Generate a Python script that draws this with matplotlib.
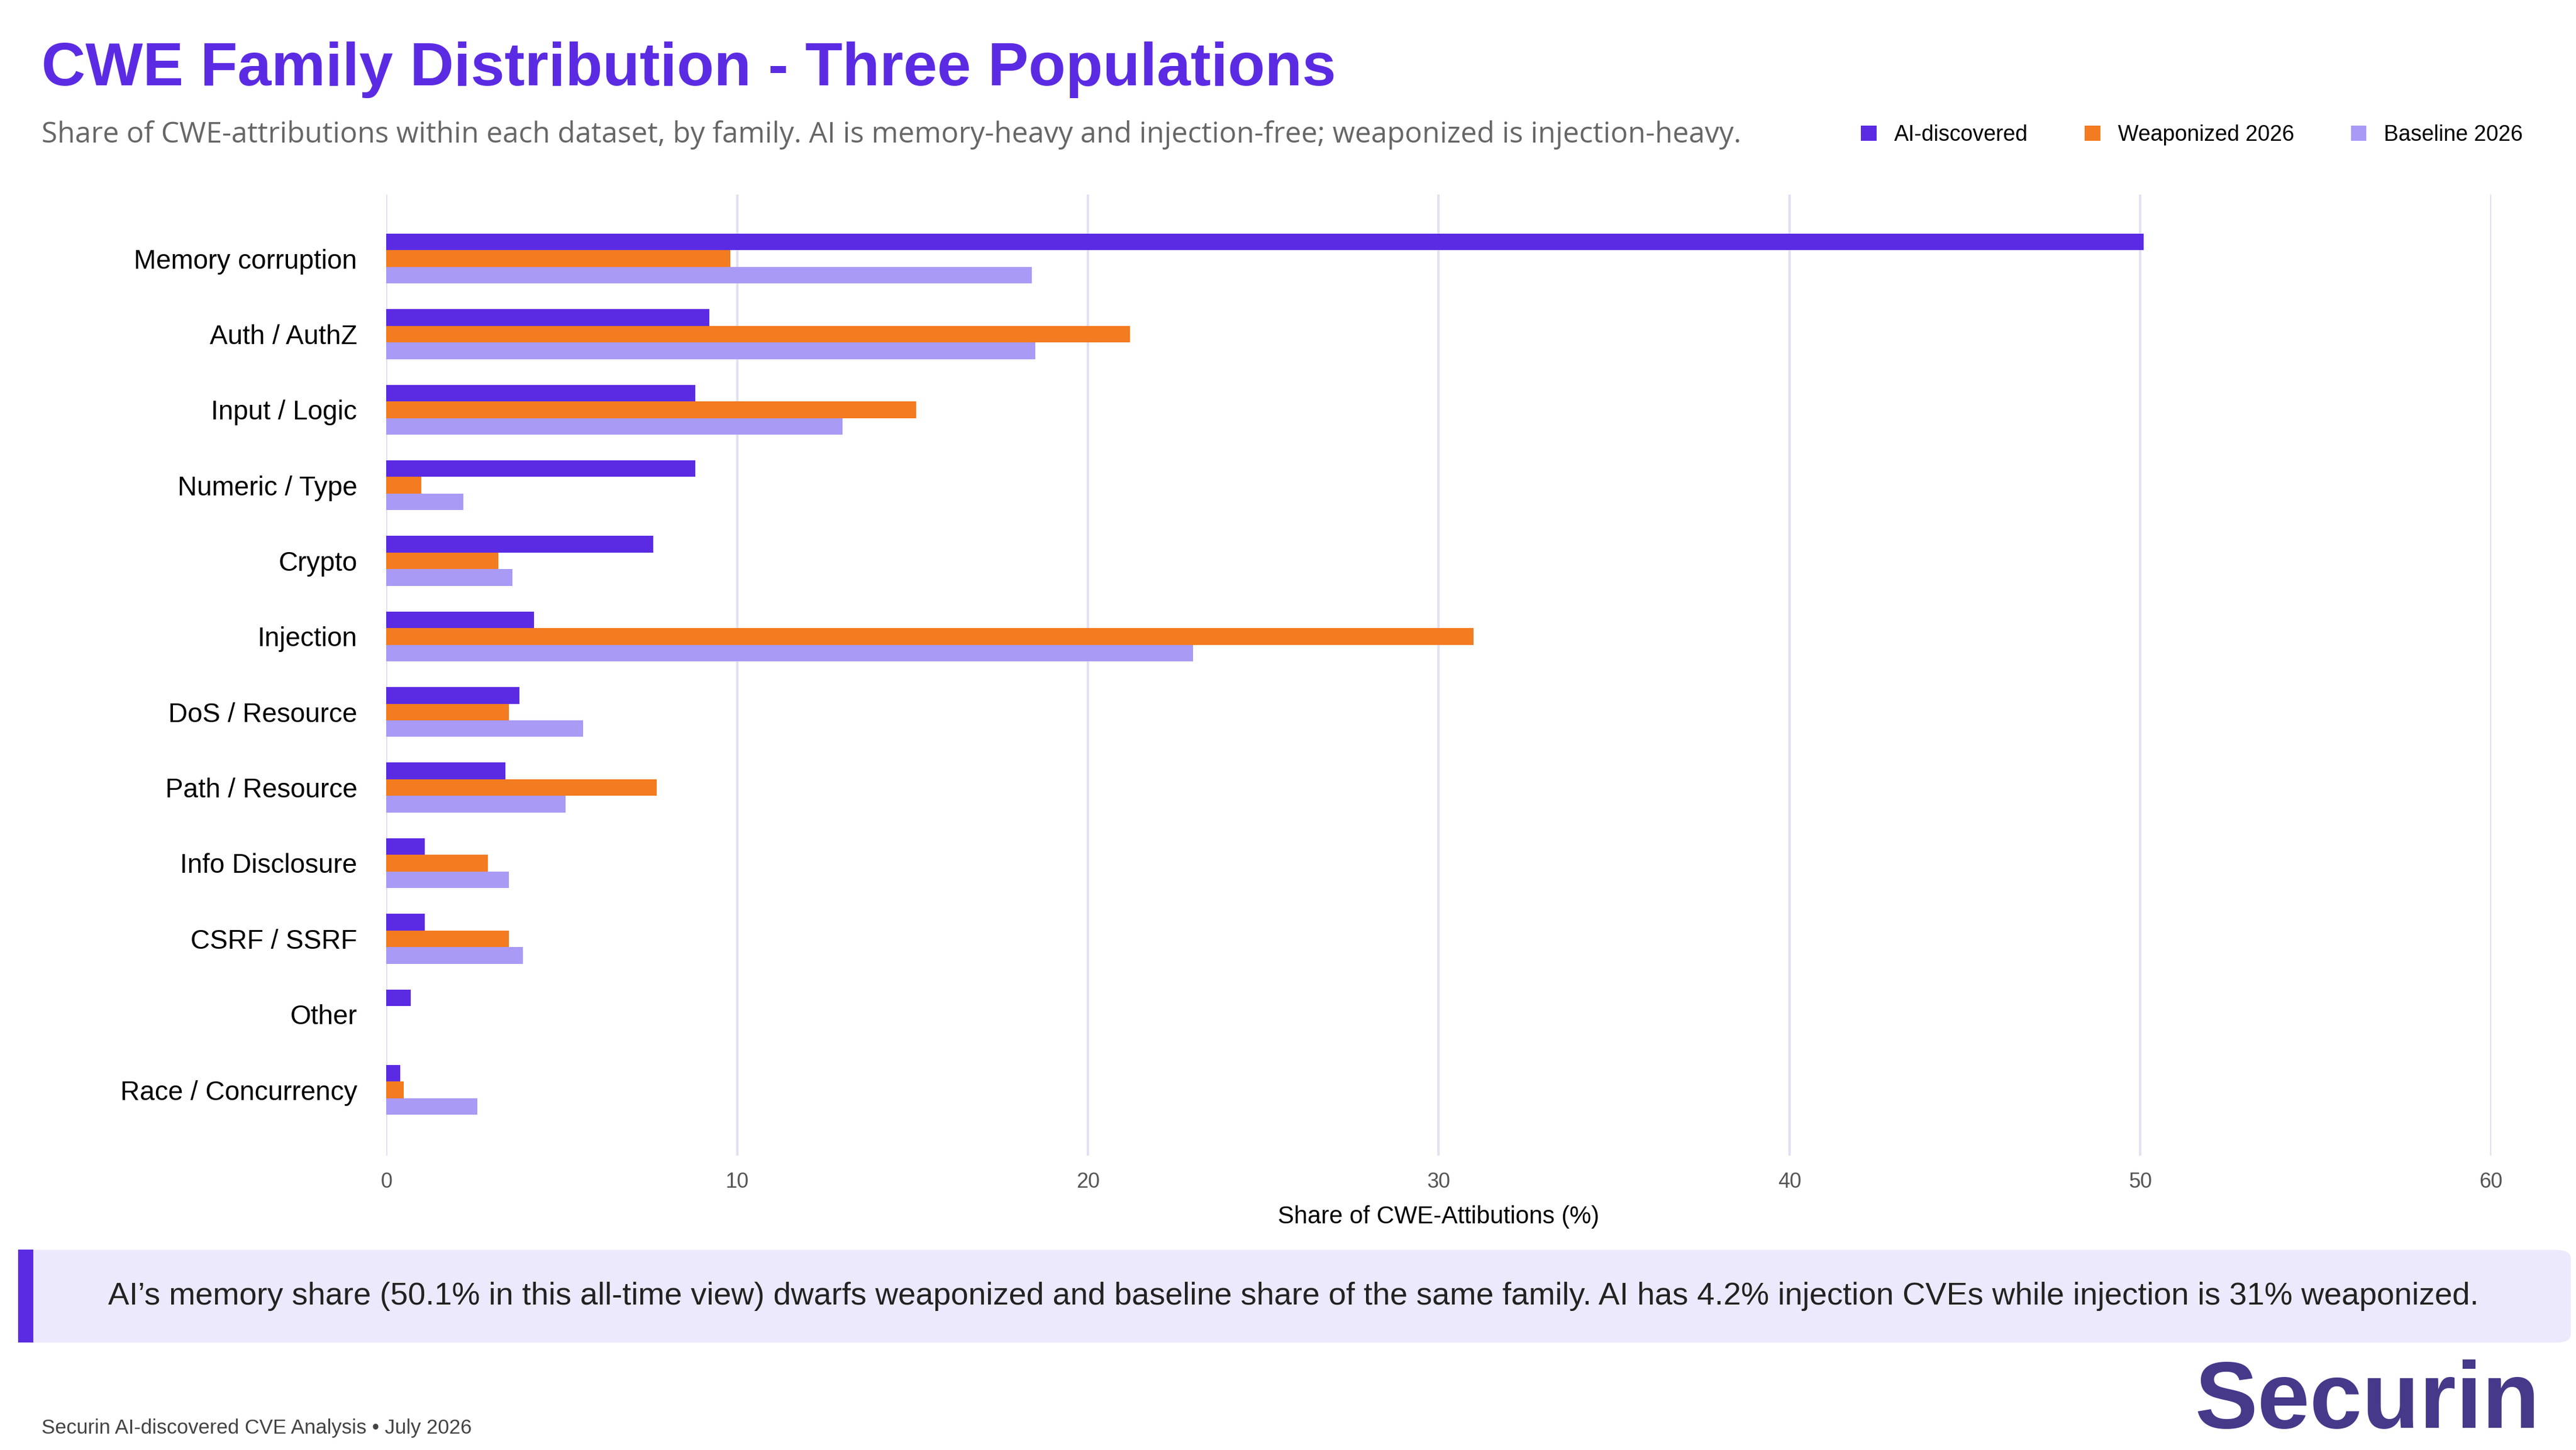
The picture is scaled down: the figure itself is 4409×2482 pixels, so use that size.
import numpy as np
import matplotlib.pyplot as plt
from matplotlib.patches import FancyBboxPatch, Rectangle

families = ['Memory corruption', 'Auth / AuthZ', 'Input / Logic', 'Numeric / Type', 'Crypto',
            'Injection', 'DoS / Resource', 'Path / Resource', 'Info Disclosure', 'CSRF / SSRF',
            'Other', 'Race / Concurrency']
ai_discovered = [50.1, 9.2, 8.8, 8.8, 7.6, 4.2, 3.8, 3.4, 1.1, 1.1, 0.7, 0.4]
weaponized = [9.8, 21.2, 15.1, 1.0, 3.2, 31.0, 3.5, 7.7, 2.9, 3.5, 0.0, 0.5]
baseline = [18.4, 18.5, 13.0, 2.2, 3.6, 23.0, 5.6, 5.1, 3.5, 3.9, 0.0, 2.6]

PURPLE = '#5B2BE3'
ORANGE = '#F37B20'
LAVENDER = '#A99AF5'

plt.rcParams['font.family'] = ['Liberation Sans', 'DejaVu Sans']
fig = plt.figure(figsize=(22.045, 12.41), dpi=200)
ax = fig.add_axes([0.150, 0.203, 0.817, 0.663])

y = np.arange(len(families))
h = 0.22
ax.barh(y - h, ai_discovered, h, color=PURPLE, label='AI-discovered')
ax.barh(y, weaponized, h, color=ORANGE, label='Weaponized 2026')
ax.barh(y + h, baseline, h, color=LAVENDER, label='Baseline 2026')
ax.set_yticks(y)
ax.set_yticklabels(families, fontsize=16.5)
ax.set_ylim(len(families) - 0.13, -0.85)
ax.set_xlim(0, 60)
ax.set_xticks(range(0, 61, 10))
ax.tick_params(axis='x', labelsize=13, colors='#555555', length=0, pad=10)
ax.tick_params(axis='y', length=0, pad=18)
ax.grid(axis='x', color='#E2E0F2', linewidth=1.5)
ax.set_axisbelow(True)
for s in ax.spines.values():
    s.set_visible(False)
ax.set_xlabel('Share of CWE-Attibutions (%)', fontsize=15, labelpad=8)

fig.text(0.016, 0.952, 'CWE Family Distribution - Three Populations', fontsize=37.5,
         fontweight='bold', color=PURPLE, va='center')
fig.text(0.016, 0.907, 'Share of CWE-attributions within each dataset, by family. AI is memory-heavy '
         'and injection-free; weaponized is injection-heavy.', fontsize=17.8, color='#666666',
         va='center', family=['Open Sans', 'DejaVu Sans'])
fig.legend(loc='center right', bbox_to_anchor=(0.987, 0.907), ncol=3, frameon=False, fontsize=13.5,
           handlelength=0.7, handleheight=0.7, columnspacing=2.6)

fig.patches.append(FancyBboxPatch((0.007, 0.074), 0.991, 0.064, boxstyle='round,pad=0,rounding_size=0.006',
                                  transform=fig.transFigure, facecolor='#ECE9FC', edgecolor='none'))
fig.patches.append(Rectangle((0.007, 0.074), 0.006, 0.064, transform=fig.transFigure,
                             facecolor=PURPLE, edgecolor='none'))
fig.text(0.502, 0.106, 'AI\u2019s memory share (50.1% in this all-time view) dwarfs weaponized and baseline '
         'share of the same family. AI has 4.2% injection CVEs while injection is 31% weaponized.',
         fontsize=19.5, ha='center', va='center', color='#222222')

fig.text(0.016, 0.015, 'Securin AI-discovered CVE Analysis \u2022 July 2026', fontsize=12.5,
         color='#444444', va='center')
fig.text(0.986, 0.032, 'Securin', fontsize=58, fontweight='bold', color='#46398A',
         ha='right', va='center')

fig.savefig('out.png', dpi=200)
